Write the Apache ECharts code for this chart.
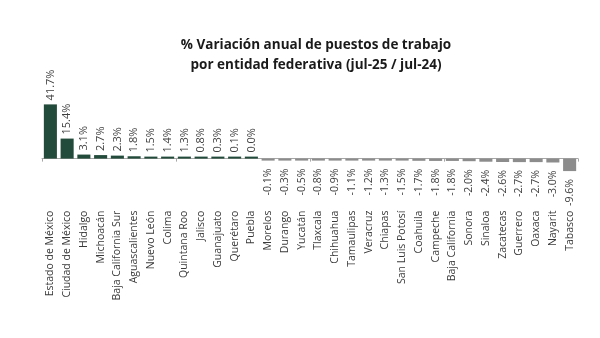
<!DOCTYPE html>
<html><head><meta charset="utf-8">
<script src="https://cdn.jsdelivr.net/npm/echarts@6/dist/echarts.min.js"></script>
<style>html,body{margin:0;padding:0;background:#fff}#c{width:600px;height:338px}</style>
</head><body><div id="c"></div>
<script>
var titleText = '% Variación anual de puestos de trabajo\npor entidad federativa (jul-25 / jul-24)';
var categories = ['Estado de México','Ciudad de México','Hidalgo','Michoacán','Baja California Sur','Aguascalientes','Nuevo León','Colima','Quintana Roo','Jalisco','Guanajuato','Querétaro','Puebla','Morelos','Durango','Yucatán','Tlaxcala','Chihuahua','Tamaulipas','Veracruz','Chiapas','San Luis Potosí','Coahuila','Campeche','Baja California','Sonora','Sinaloa','Zacatecas','Guerrero','Oaxaca','Nayarit','Tabasco'];
var values = [41.7,15.4,3.1,2.7,2.3,1.8,1.5,1.4,1.3,0.8,0.3,0.1,0.0,-0.1,-0.3,-0.5,-0.8,-0.9,-1.1,-1.2,-1.3,-1.5,-1.7,-1.8,-1.8,-2.0,-2.4,-2.6,-2.7,-2.7,-3.0,-9.6];

var GREEN = '#234b3b', GRAY = '#8c8c8c';
var FONT = 'Open Sans';
var data = values.map(function(v){
  var pos = v >= 0;
  return {
    value: v,
    itemStyle: {color: pos ? GREEN : GRAY},
    label: pos ? {position:'top', align:'left', verticalAlign:'middle', distance:4, fontSize: 11}
               : {position:'bottom', align:'right', verticalAlign:'middle', distance:8, fontSize: 10.5}
  };
});

var chart = echarts.init(document.getElementById('c'), null, {renderer:'canvas'});
chart.setOption({
  animation: false,
  backgroundColor: '#fff',
  title: {
    text: titleText, left: 311, top: 30, textAlign: 'center',
    textStyle: {fontFamily: FONT, fontWeight: 'bold', fontSize: 13.5, color: '#1a1a1a', lineHeight: 20}
  },
  grid: {left: 42, right: 22, top: 104, bottom: 166.4},
  xAxis: [{
    type: 'category', data: categories, position: 'bottom',
    axisLine: {show: false, onZero: false}, axisTick: {show: false},
    axisLabel: {rotate: 90, interval: 0, margin: 39, fontFamily: FONT, fontSize: 10.5, color: '#3a3a3a'}
  },{
    type: 'category', data: categories, position: 'bottom',
    axisLine: {show: true, onZero: true, lineStyle: {color: '#a6a6a6', width: 1}},
    axisTick: {show: true, alignWithLabel: false, length: 3, lineStyle: {color: '#a6a6a6'}},
    axisLabel: {show: false}
  }],
  yAxis: {type: 'value', min: -10, max: 42, show: false, splitLine: {show: false}},
  series: [{
    type: 'bar', data: data, xAxisIndex: 0, barCategoryGap: '22%', barMinHeight: 2,
    label: {show: true, rotate: 90, fontFamily: FONT, color: '#404040',
      formatter: function(p){ return p.value.toFixed(1) + '%'; }}
  }]
});
</script></body></html>
